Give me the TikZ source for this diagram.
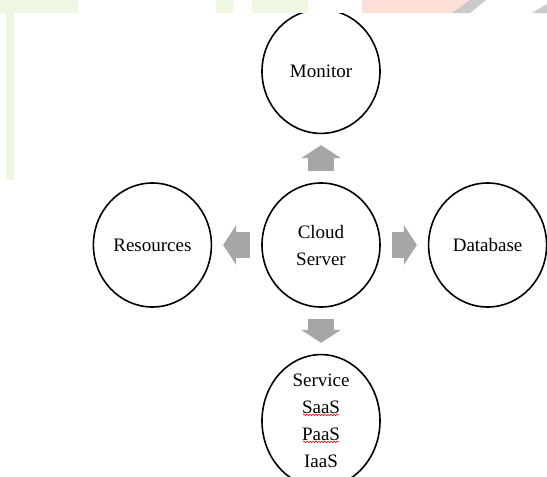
\documentclass[tikz,border=0pt]{standalone}
\usepackage{fontspec}
\setmainfont{Liberation Serif}
\usetikzlibrary{arrows.meta,positioning,shapes.geometric,decorations.pathmorphing}

\definecolor{arrowgray}{HTML}{A6A6A6}
\definecolor{paleleaf}{HTML}{EDF7E2}
\definecolor{palesalmon}{HTML}{FFE0D8}
\definecolor{smudge}{HTML}{CACACA}

\begin{document}
\begin{tikzpicture}[
  x=1pt,y=-1pt,
  node distance=48pt,
  blob/.style={draw,ellipse,line width=1.6pt,minimum width=118pt,minimum height=124pt,
    inner sep=0pt,align=center,font=\fontsize{19}{27}\selectfont},
  fat/.style={draw=arrowgray,line width=26pt,
    -{Triangle[width=40pt,length=13pt,line width=0pt]},shorten <=11pt,shorten >=11pt},
  wave/.style={red,line width=.6pt,decorate,
    decoration={snake,amplitude=.8pt,segment length=3pt}}
]
\useasboundingbox (0,0) rectangle (547,477);

% hub and the four parts round it
\node[blob] (cs) at (321,245) {Cloud\\Server};
\node[blob,above=of cs] (mon) {Monitor};
\node[blob,left=49pt of cs] (res) {Resources};
\node[blob,right=47pt of cs] (db) {Database};
\node[blob,below=46pt of cs] (svc) {Service\\SaaS\\PaaS\\IaaS};

% block arrows out of the hub
\draw[fat] (cs) -- (mon);
\draw[fat] (cs) -- (res);
\draw[fat] (cs) -- (db);
\draw[fat] (cs) -- (svc);

% spell-check squiggles under SaaS and PaaS
\draw[wave] ([shift={(-18,-6)}]svc.center) -- ([shift={(18,-6)}]svc.center);
\draw[wave] ([shift={(-18,21)}]svc.center) -- ([shift={(18,21)}]svc.center);

% faint strip along the top edge
\fill[white] (0,0) rectangle (547,13);
\fill[paleleaf] (0,0) rectangle (78,13);
\fill[paleleaf] (6,13) rectangle (14,180);
\fill[paleleaf] (216,0) rectangle (233,13);
\fill[paleleaf] (252,0) rectangle (308,13);
\fill[palesalmon] (362,0) -- (470,0) -- (452,13) -- (362,13) -- cycle;
\fill[smudge] (452,13) -- (470,13) -- (486,0) -- (470,0) -- cycle;
\fill[smudge] (532,13) -- (547,13) -- (547,4) -- cycle;
\end{tikzpicture}
\end{document}
